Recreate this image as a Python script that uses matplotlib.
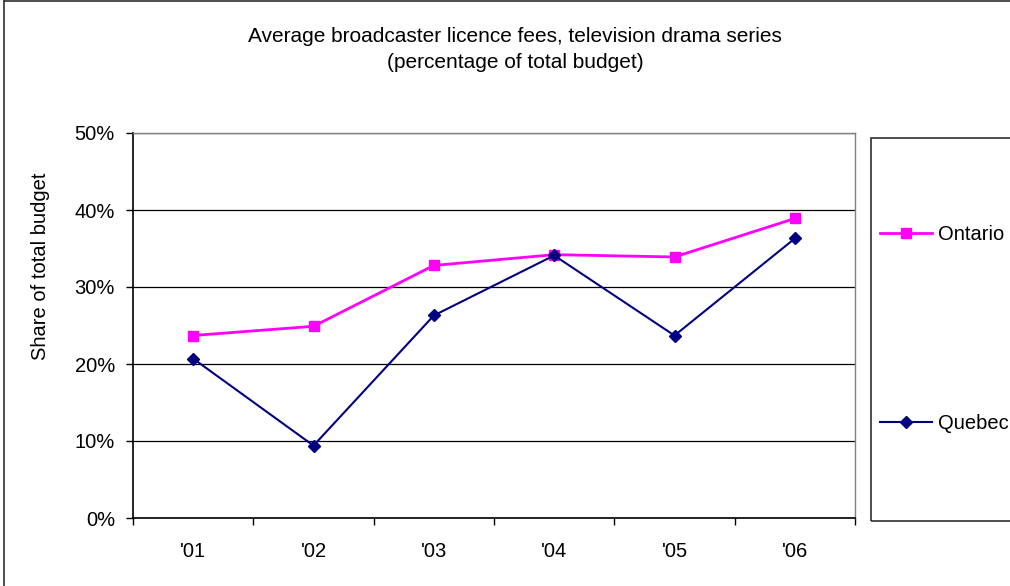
import matplotlib
matplotlib.use("Agg")
import matplotlib.pyplot as plt
from matplotlib.lines import Line2D
from matplotlib.patches import Rectangle

plt.rcParams['font.family'] = ['Liberation Sans', 'DejaVu Sans']

years = ["'01", "'02", "'03", "'04", "'05", "'06"]
ontario = [23.7, 24.9, 32.8, 34.2, 33.9, 38.9]
quebec = [20.7, 9.4, 26.3, 34.1, 23.7, 36.3]
yticks = [0, 10, 20, 30, 40, 50]

W, H = 1010, 586
fig = plt.figure(figsize=(W / 100, H / 100), dpi=100)
fig.patch.set_facecolor('white')

# outer chart border (left and top edges visible)
fig.add_artist(Line2D([4 / W, 4 / W], [0, 1 - 1 / H], color='#303030', lw=1.2))
fig.add_artist(Line2D([4 / W, 1], [1 - 1 / H, 1 - 1 / H], color='#303030', lw=1.2))

ax = fig.add_axes([133 / W, 1 - 518 / H, (855 - 133) / W, (518 - 133) / H])
x = list(range(len(years)))

ax.plot(x, ontario, color='#FF00FF', lw=2, marker='s', markersize=7.5,
        markeredgecolor='#FF00FF', label='Ontario', zorder=3)
ax.plot(x, quebec, color='#000080', lw=1.5, marker='D', markersize=6.5,
        markeredgecolor='#000080', label='Quebec', zorder=3)

ax.set_xlim(-0.5, len(years) - 0.5)
ax.set_ylim(0, 50)
ax.set_yticks(yticks)
ax.set_yticklabels([f'{v}%' for v in yticks], fontsize=14.5)
ax.set_xticks(x)
ax.set_xticklabels(years, fontsize=14.5)
ax.set_xticks([i - 0.5 for i in range(len(years) + 1)], minor=True)
ax.tick_params(axis='x', which='major', length=0, pad=17)
ax.tick_params(axis='x', which='minor', length=5, width=1, direction='out', color='black')
ax.tick_params(axis='y', length=5, width=1, direction='out', pad=8, color='black')

ax.yaxis.grid(True, color='black', lw=0.9)
ax.set_axisbelow(True)
for s in ('top', 'right'):
    ax.spines[s].set_color('#808080')
    ax.spines[s].set_linewidth(1)
for s in ('left', 'bottom'):
    ax.spines[s].set_color('black')
    ax.spines[s].set_linewidth(1.2)

ax.set_ylabel('Share of total budget', fontsize=14.5)
ax.yaxis.set_label_coords((50 - 133) / (855 - 133), (518 - 266) / (518 - 133))

fig.text(515 / W, 1 - 36 / H, 'Average broadcaster licence fees, television drama series',
         ha='center', va='center', fontsize=15)
fig.text(515 / W, 1 - 63 / H, '(percentage of total budget)',
         ha='center', va='center', fontsize=15)

# legend panel
fig.add_artist(Rectangle((871 / W, 1 - 521 / H), 0.2, (521 - 138) / H,
                         transform=fig.transFigure, fill=False,
                         edgecolor='#303030', lw=1.2))
handles, labels = ax.get_legend_handles_labels()
fig.legend(handles, labels, loc='center left', frameon=False,
           bbox_to_anchor=(880 / W, 1 - 329 / H), fontsize=14.5,
           labelspacing=8.4, handlelength=2.6, handletextpad=0.3,
           borderaxespad=0, borderpad=0)

fig.savefig('out.png', dpi=100)
